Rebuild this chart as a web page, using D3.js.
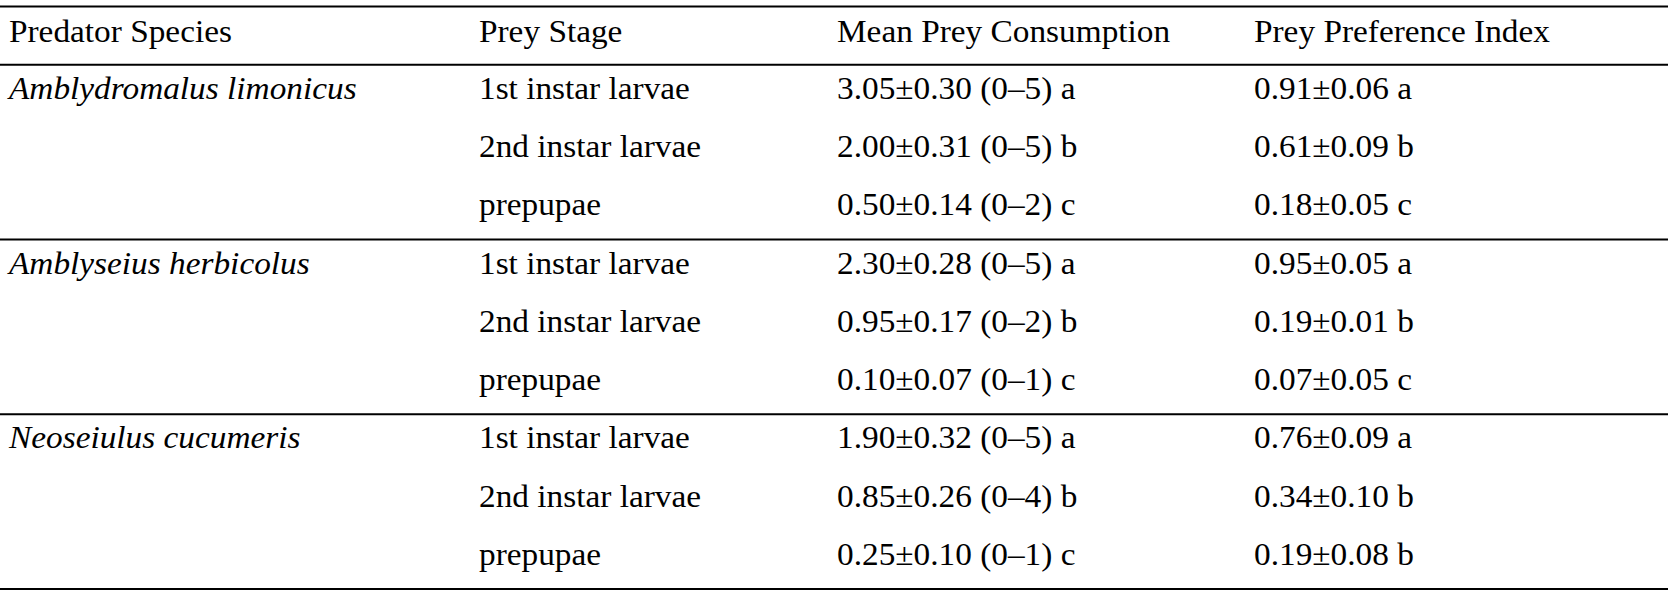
<!DOCTYPE html>
<html>
<head>
<meta charset="utf-8">
<script src="https://cdn.jsdelivr.net/npm/d3@7"></script>
<style>
  html, body { margin: 0; padding: 0; background: #fff; }
  svg { display: block; }
</style>
</head>
<body>
<div id="chart"></div>
<script>
const headers = ["Predator Species", "Prey Stage", "Mean Prey Consumption", "Prey Preference Index"];
const species = ["Amblydromalus limonicus", "Amblyseius herbicolus", "Neoseiulus cucumeris"];
const stages = ["1st instar larvae", "2nd instar larvae", "prepupae"];
const meanConsumption = [
  "3.05±0.30 (0–5) a", "2.00±0.31 (0–5) b", "0.50±0.14 (0–2) c",
  "2.30±0.28 (0–5) a", "0.95±0.17 (0–2) b", "0.10±0.07 (0–1) c",
  "1.90±0.32 (0–5) a", "0.85±0.26 (0–4) b", "0.25±0.10 (0–1) c"
];
const preferenceIndex = [
  "0.91±0.06 a", "0.61±0.09 b", "0.18±0.05 c",
  "0.95±0.05 a", "0.19±0.01 b", "0.07±0.05 c",
  "0.76±0.09 a", "0.34±0.10 b", "0.19±0.08 b"
];

const W = 1674, H = 598;
const svg = d3.select("#chart").append("svg").attr("width", W).attr("height", H);

const rows = [];
species.forEach((sp, i) => {
  stages.forEach((st, j) => {
    const k = i * 3 + j;
    rows.push({ sp: j === 0 ? sp : "", st, mc: meanConsumption[k], pi: preferenceIndex[k] });
  });
});

const y = d3.scaleBand().domain(d3.range(rows.length + 1)).range([6.5, 589]).padding(0);
const x = d3.scaleOrdinal().domain([0, 1, 2, 3]).range([9, 479, 837, 1254]);

const fontSize = 31, stretch = 1.075;
const headOff = 35.5, bodyOff = 34;
const font = "'Liberation Serif', 'Times New Roman', serif";

// header
svg.append("g").selectAll("text").data(headers).join("text")
  .attr("transform", (d, i) => `translate(${x(i)},${y(0) + headOff}) scale(${stretch},1)`)
  .attr("font-family", font).attr("font-size", fontSize).attr("fill", "#000")
  .text(d => d);

// body
const rowG = svg.append("g").selectAll("g").data(rows).join("g")
  .attr("transform", (d, i) => `translate(0,${y(i + 1) + bodyOff})`);
const cols = ["sp", "st", "mc", "pi"];
cols.forEach((c, ci) => {
  rowG.append("text")
    .attr("transform", `translate(${x(ci)},0) scale(${stretch},1)`)
    .attr("font-family", font).attr("font-size", fontSize).attr("fill", "#000")
    .attr("font-style", ci === 0 ? "italic" : "normal")
    .text(d => d[c]);
});

// rules
const ruleIdx = [0, 1, 4, 7, 10];
svg.append("g").selectAll("line").data(ruleIdx).join("line")
  .attr("x1", 0).attr("x2", 1668)
  .attr("y1", d => d < 10 ? y(d) : y.range()[1])
  .attr("y2", d => d < 10 ? y(d) : y.range()[1])
  .attr("stroke", "#000").attr("stroke-width", 2);
</script>
</body>
</html>
